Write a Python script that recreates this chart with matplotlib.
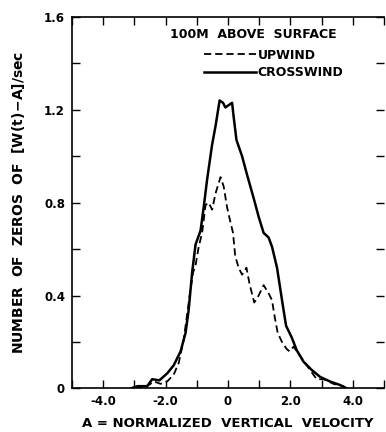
from matplotlib import pyplot as plt
import numpy as np

# crosswind (solid)
x_cross = [-3.12, -2.9, -2.59, -2.43, -2.2, -1.95, -1.74, -1.52, -1.36, -1.26, -1.15, -1.04,
           -0.88, -0.78, -0.67, -0.51, -0.40, -0.27, -0.16, -0.085, 0.13, 0.18, 0.27, 0.45,
           0.61, 0.82, 0.98, 1.14, 1.30, 1.41, 1.57, 1.73, 1.86, 2.04, 2.2, 2.42, 2.68,
           2.95, 3.27, 3.59, 3.8]
y_cross = [0.0, 0.01, 0.01, 0.04, 0.035, 0.065, 0.10, 0.16, 0.24, 0.34, 0.50, 0.62,
           0.68, 0.78, 0.90, 1.05, 1.13, 1.24, 1.23, 1.21, 1.23, 1.17, 1.07, 1.0,
           0.92, 0.82, 0.74, 0.67, 0.65, 0.61, 0.52, 0.38, 0.27, 0.22, 0.165, 0.115, 0.08,
           0.05, 0.03, 0.015, 0.0]

# upwind (dashed)
x_up = [-3.0, -2.6, -2.37, -2.16, -1.95, -1.74, -1.58, -1.42, -1.31, -1.22, -1.12, -1.04,
        -0.94, -0.83, -0.72, -0.62, -0.51, -0.40, -0.24, -0.14, -0.03, 0.07, 0.16, 0.23,
        0.34, 0.45, 0.59, 0.69, 0.84, 0.98, 1.14, 1.30, 1.41, 1.48, 1.59, 1.73, 1.88,
        1.97, 2.10, 2.26, 2.47, 2.68, 2.84, 3.06, 3.38, 3.70, 3.80]
y_up = [0.0, 0.01, 0.03, 0.02, 0.03, 0.06, 0.11, 0.21, 0.32, 0.41, 0.50, 0.53,
        0.61, 0.67, 0.79, 0.80, 0.77, 0.84, 0.91, 0.87, 0.78, 0.72, 0.67, 0.57,
        0.52, 0.49, 0.52, 0.45, 0.37, 0.40, 0.445, 0.41, 0.38, 0.32, 0.24, 0.20, 0.17,
        0.16, 0.18, 0.15, 0.11, 0.07, 0.04, 0.04, 0.02, 0.01, 0.0]

xtick_labels = ['-4.0', '-2.0', '0', '2.0', '4.0']
ytick_labels = ['0', '0.4', '0.8', '1.2', '1.6']

plt.rcParams['font.family'] = 'DejaVu Sans'
plt.rcParams['font.weight'] = 'bold'
plt.rcParams['axes.labelweight'] = 'bold'
plt.rcParams['mathtext.default'] = 'bf'

fig = plt.figure(figsize=(3.86, 4.32), dpi=100)
ax = fig.add_axes([0.1865, 0.1007, 0.8085, 0.8603])

ax.plot(x_up, y_up, color='black', lw=1.3, linestyle=(0, (4, 2.2)), label='UPWIND')
ax.plot(x_cross, y_cross, color='black', lw=1.8, label='CROSSWIND')

ax.set_xlim(-5, 5)
ax.set_ylim(0, 1.6)
ax.set_xticks(np.arange(-4, 5, 2))
ax.set_xticklabels(xtick_labels)
ax.set_xticks(np.arange(-5, 6, 1), minor=True)
ax.set_yticks(np.arange(0, 1.7, 0.4))
ax.set_yticklabels(ytick_labels)
ax.set_yticks(np.arange(0, 1.7, 0.2), minor=True)
ax.tick_params(which='both', direction='in', top=True, right=True, length=6, width=1,
               labelsize=8.5, pad=5)
for s in ax.spines.values():
    s.set_linewidth(1.2)
ax.spines['right'].set_visible(False)

ax.set_xlabel('A = NORMALIZED  VERTICAL  VELOCITY', fontsize=9.5, labelpad=6)
ax.set_ylabel(r'NUMBER  OF  ZEROS  OF  $\left[W(t)\!-\!A\right]$/sec', fontsize=10, labelpad=12)

ax.text(0.58, 0.953, '100M  ABOVE  SURFACE', transform=ax.transAxes, ha='center',
        va='center', fontsize=9)
ax.legend(loc='upper right', bbox_to_anchor=(0.905, 0.945), frameon=False, handlelength=4.2,
          handletextpad=0.1, fontsize=9, labelspacing=0.35)

fig.savefig('out.png', dpi=100)
